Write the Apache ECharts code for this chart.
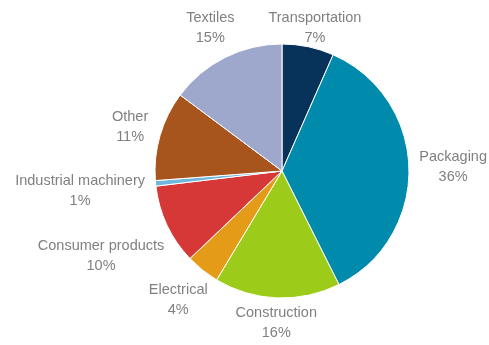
<!DOCTYPE html>
<html><head><meta charset="utf-8">
<script src="https://cdn.jsdelivr.net/npm/echarts@6/dist/echarts.min.js"></script>
<style>html,body{margin:0;padding:0;background:#fff}#c{width:489px;height:345px}</style>
</head><body><div id="c"></div>
<script>
const categories = ['Transportation','Packaging','Construction','Electrical','Consumer products','Industrial machinery','Other','Textiles'];
const values = [6.6, 36.0, 16.0, 4.3, 10.2, 0.7, 11.4, 14.8];
const colors = ['#07325a','#008aac','#9dcb19','#e49c18','#d63838','#6fb6dc','#a8541d','#9ea8cc'];

const CX = 282, CY = 171, R = 127, GAP = 10, TOPMIN = 14;
const total = values.reduce((a, b) => a + b, 0);
const cum = [];
values.reduce((a, v, i) => { cum[i] = a; return a + v; }, 0);

const chart = echarts.init(document.getElementById('c'));
chart.setOption({
  animation: false,
  series: [{
    type: 'pie',
    center: [CX, CY],
    radius: R,
    startAngle: 90,
    clockwise: true,
    data: categories.map((n, i) => ({ name: n, value: values[i], itemStyle: { color: colors[i] } })),
    itemStyle: { borderColor: '#fff', borderWidth: 1 },
    label: {
      show: true,
      position: 'outside',
      alignTo: 'none',
      overflow: 'none',
      formatter: p => '{a|' + p.name + '}\n{a|' + Math.round(p.value) + '%}',
      rich: { a: { align: 'center', fontSize: 14.5, lineHeight: 20, color: '#808080', fontFamily: 'Liberation Sans, Arial, sans-serif' } },
      color: '#808080'
    },
    labelLine: { show: false },
    labelLayout: function (p) {
      const i = p.dataIndex;
      const mid = (cum[i] + values[i] / 2) / total * Math.PI * 2;
      const s = Math.sin(mid), c = Math.cos(mid);
      const hw = p.labelRect.width / 2, hh = p.labelRect.height / 2 - 4;
      const d = R + GAP + hw * Math.abs(s) + hh * Math.abs(c);
      const x = CX + d * s;
      const y = Math.max(CY - d * c, TOPMIN + hh);
      return { x: x, y: y, align: 'center', verticalAlign: 'middle' };
    },
    emphasis: { disabled: true }
  }]
});
</script></body></html>
